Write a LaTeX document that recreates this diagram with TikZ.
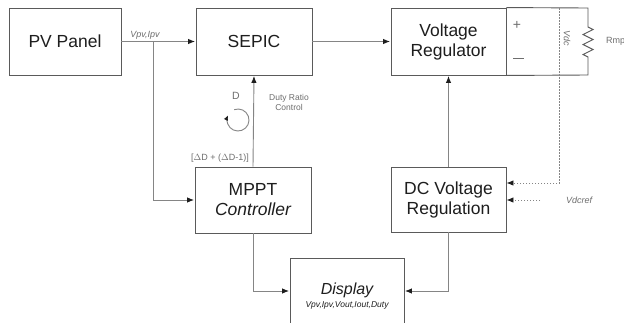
\documentclass[tikz,border=0pt]{standalone}
\usepackage{fontspec}
\setmainfont{Liberation Sans}
\usetikzlibrary{arrows.meta}
\definecolor{boxc}{HTML}{5A5A5A}
\definecolor{linec}{HTML}{858585}
\definecolor{txtc}{HTML}{1E1E1E}
\definecolor{lblc}{HTML}{6E6E6E}
\begin{document}
\begin{tikzpicture}[x=1pt,y=-1pt,
  blk/.style={draw=boxc,line width=0.9pt,inner sep=0pt,font=\fontsize{17.5}{20}\selectfont,text=txtc,align=center},
  wire/.style={draw=linec,line width=0.9pt},
  tip/.style={-{Latex[length=7pt,width=5.5pt,color=txtc]}},
  arr/.style={wire,tip,shorten >=0.5pt},
  dots/.style={draw=linec,line width=0.9pt,dash pattern=on 1.5pt off 1.5pt,tip},
  lbl/.style={text=lblc,font=\fontsize{9}{10}\selectfont\itshape,inner sep=1pt},
  lbln/.style={text=lblc,font=\fontsize{8.5}{10}\selectfont,inner sep=1pt,align=center}]
\useasboundingbox (0,0) rectangle (624,322);
\fill[white] (0,0) rectangle (624,322);
% blocks
\node[blk,minimum width=112pt,minimum height=67pt] (pv) at (65,41.5) {PV Panel};
\node[blk,minimum width=116pt,minimum height=67pt] (sepic) at (254,41.5) {SEPIC};
\node[blk,minimum width=115pt,minimum height=67pt] (vr) at (448.5,41.5) {Voltage\\Regulator};
\node[blk,minimum width=116pt,minimum height=66pt] (mppt) at (253,200) {MPPT\\\itshape Controller};
\node[blk,minimum width=115pt,minimum height=65pt] (dcv) at (448.5,199.5) {DC Voltage\\Regulation};
\node[draw=boxc,line width=0.9pt,minimum width=114pt,minimum height=72pt,anchor=north] (disp) at (347,258) {};
\node[text=txtc,font=\fontsize{16}{18}\selectfont\itshape] (dispt) at (347,290) {Display};
\node[text=txtc,font=\fontsize{8.5}{10}\selectfont\itshape] (disps) at (347,305) {Vpv,Ipv,Vout,Iout,Duty};
% output section
\coordinate (o1) at (588,8);
\coordinate (o2) at (588,75);
\coordinate (r1) at (588,27);
\coordinate (r2) at (588,57);
\draw[boxc,line width=0.9pt] (vr.north east) -- (o1) -- (r1)
  -- ++(5,2.5) -- ++(-10,5) -- ++(10,5) -- ++(-10,5) -- ++(10,5) -- ++(-10,5) -- (r2) -- (o2) -- (vr.south east);
\node[text=lblc,font=\fontsize{14}{14}\selectfont] (plus) at (517,25) {+};
\node[fill=lblc,minimum width=11pt,minimum height=0.8pt,inner sep=0pt] (minus) at (518,58) {};
\node[lbl,rotate=-90] (vdc) at (567,38) {Vdc};
\node[lbln,anchor=west,font=\fontsize{9}{10}\selectfont] (rmp) at (605,41) {Rmp};
% connectors
\draw[arr] (pv.east) -- (sepic.west);
\node[lbl,anchor=south] (vpv) at (145,41) {Vpv,Ipv};
\coordinate (br) at (153,41.5);
\draw[arr] (br) |- (mppt.west);
\draw[arr] (sepic.east) -- (vr.west);
\draw[arr] (mppt.north) -- (sepic.south);
\node[text=lblc,font=\fontsize{10.5}{12}\selectfont] (dlab) at (236,96) {D};
\node[lbln] (duty) at (289,102) {Duty Ratio\\Control};
\node[lbl,font=\fontsize{9}{10}\selectfont,anchor=south] (dd) at (220,164) {[$\Delta$D + ($\Delta$D-1)]};
\coordinate (cc) at (238,120);
\draw[wire,-{Latex[length=5pt,width=4.5pt,color=txtc]}] ([shift={(-110:11)}]cc) arc[start angle=-110,end angle=205,radius=11];
\draw[arr] (dcv.north) -- (vr.south);
\draw[dots] (559,8) |- ([yshift=16.5pt]dcv.east);
\coordinate (vref) at (540,200);
\draw[dots] (vref) -- (dcv.east |- vref);
\node[lbl,anchor=west] (vdcref) at (565,200) {Vdcref};
\coordinate (dl) at (347,291);
\draw[arr] (mppt.south) |- (disp.west |- dl);
\draw[arr] (dcv.south) |- (disp.east |- dl);
\end{tikzpicture}
\end{document}
